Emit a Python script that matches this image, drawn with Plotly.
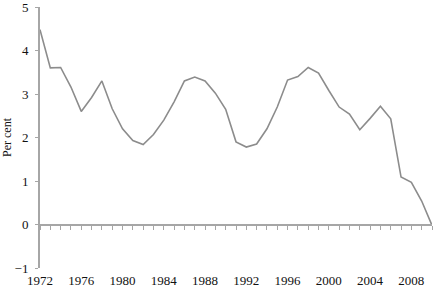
import plotly.graph_objects as go

years = list(range(1972, 2011))
values = [4.48, 3.60, 3.61, 3.16, 2.60, 2.92, 3.30, 2.66, 2.20, 1.93,
          1.84, 2.07, 2.40, 2.82, 3.30, 3.39, 3.30, 3.02, 2.65, 1.90,
          1.78, 1.85, 2.20, 2.70, 3.32, 3.40, 3.61, 3.48, 3.08, 2.70,
          2.54, 2.18, 2.44, 2.72, 2.43, 1.09, 0.97, 0.54, -0.02]
tick_years = [1972, 1976, 1980, 1984, 1988, 1992, 1996, 2000, 2004, 2008]
y_ticks = [-1, 0, 1, 2, 3, 4, 5]

font = dict(family="Liberation Serif", size=13, color="#111111")
axis_col = "#a6a6a6"

fig = go.Figure()
fig.add_trace(go.Scatter(x=years, y=values, mode="lines",
                         line=dict(color="#8c8c8c", width=1.6), showlegend=False))
# invisible trace on secondary x axis (zero line with yearly ticks)
fig.add_trace(go.Scatter(x=years, y=values, mode="lines", xaxis="x2",
                         line=dict(width=0), opacity=0, showlegend=False, hoverinfo="skip"))

fig.update_layout(
    width=433, height=288,
    margin=dict(l=40, r=1, t=7, b=20),
    paper_bgcolor="white", plot_bgcolor="white",
    font=font,
    xaxis=dict(range=[1972, 2010], tickvals=tick_years, ticks="", showline=False,
               showgrid=False, zeroline=False, tickfont=font, ticklabelstandoff=3,
               ticklabeloverflow="allow", automargin=False),
    xaxis2=dict(range=[1972, 2010], overlaying="x", anchor="free", position=1/6,
                showline=True, linecolor=axis_col, linewidth=2, ticks="outside",
                dtick=1, tick0=1972, ticklen=4, tickcolor=axis_col, tickwidth=1,
                showticklabels=False, showgrid=False, zeroline=False, automargin=False),
    yaxis=dict(range=[-1, 5], tickvals=y_ticks, showline=True, linecolor=axis_col,
               linewidth=2, ticks="outside", ticklen=3, tickcolor=axis_col,
               showgrid=False, zeroline=False, tickfont=font, ticklabelstandoff=4,
               ticklabeloverflow="allow", automargin=False,
               title=dict(text="Per cent", font=dict(family="Liberation Serif", size=12, color="#111111"),
                          standoff=6)),
)

fig.write_html("out.html")
